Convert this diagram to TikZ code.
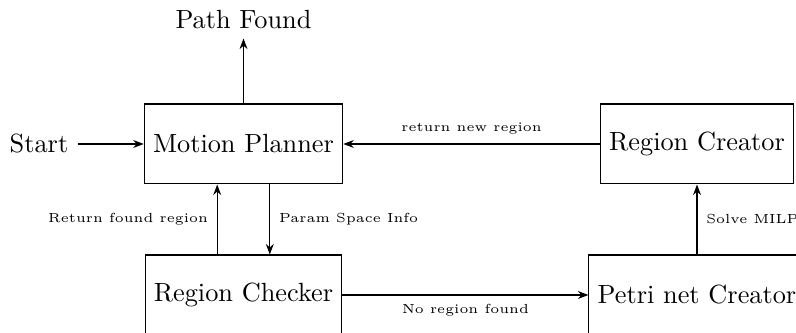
\documentclass[tikz,border=0pt]{standalone}
\usetikzlibrary{arrows.meta}
\begin{document}
\begin{tikzpicture}[x=0.3802pt,y=-0.3802pt,
  blk/.style={draw,minimum height=30.4pt,inner sep=3.33pt},
  con/.style={-{Stealth[length=4pt,width=3pt]}},
  lbl/.style={font=\tiny}]
\useasboundingbox (0,0) rectangle (796,333);
\begin{scope}
\clip (0,0) rectangle (796,333);
\node[blk] (mp) at (243.5,144) {Motion Planner};
\node[blk] (rc) at (697,144) {Region Creator};
\node[blk] (ck) at (243.5,295) {Region Checker};
\node[blk] (pn) at (697,295) {Petri net Creator};
\node (pf) at (243.5,20) {Path Found};
\node (st) at (39,144) {Start};
\draw[con] (st) -- (mp);
\draw[con] (mp) -- (pf);
\draw[con] (rc) -- node[lbl,above] {return new region} (mp);
\draw[con] (ck) -- node[lbl,below] {No region found} (pn);
\draw[con] ([xshift=-10pt]ck.north) -- node[lbl,left] {Return found region} ([xshift=-10pt]mp.south);
\draw[con] ([xshift=10pt]mp.south) -- node[lbl,right] {Param Space Info} ([xshift=10pt]ck.north);
\draw[con] (pn.north) -- node[lbl,right] {Solve MILP} (rc.south);
\end{scope}
\end{tikzpicture}
\end{document}
